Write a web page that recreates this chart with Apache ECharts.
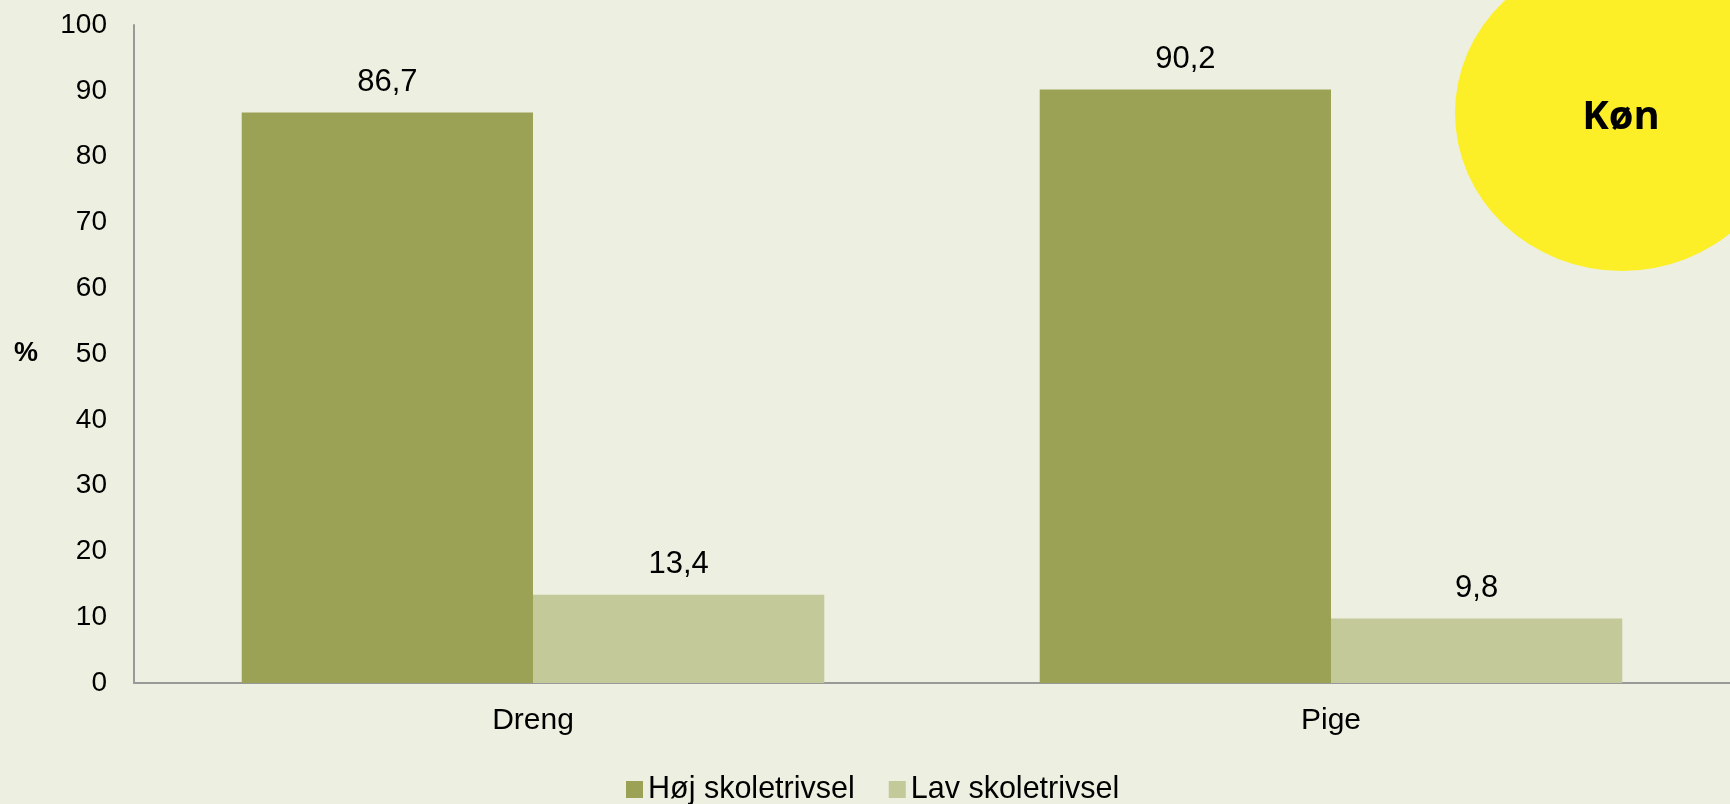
<!DOCTYPE html>
<html>
<head>
<meta charset="utf-8">
<script src="https://cdn.jsdelivr.net/npm/echarts@6/dist/echarts.min.js"></script>
<style>
  html, body { margin: 0; padding: 0; background: #edefe0; }
  #chart { width: 1730px; height: 804px; }
</style>
</head>
<body>
<div id="chart"></div>
<script>
// data
const categories = ['Dreng', 'Pige']
const seriesNames = ['Høj skoletrivsel', 'Lav skoletrivsel']
const hojValues = [86.7, 90.2]
const lavValues = [13.4, 9.8]
const colors = ['#9ba155', '#c4c99a']

const chart = echarts.init(document.getElementById('chart'))
const font = 'Liberation Sans, Arial, sans-serif'
const labelFmt = p => String(p.value).replace('.', ',')

const option = {
  backgroundColor: '#edefe0',
  textStyle: { fontFamily: font },
  grid: { left: 134, right: -4, top: 25, bottom: 121 },
  legend: {
    data: seriesNames,
    bottom: -6,
    left: 621,
    icon: 'rect',
    itemWidth: 17,
    itemHeight: 17,
    itemGap: 34,
    textStyle: { fontSize: 30.5, color: '#000', fontFamily: font }
  },
  xAxis: {
    type: 'category',
    data: categories,
    axisLine: { lineStyle: { color: '#999', width: 2 } },
    axisTick: { show: false },
    axisLabel: { fontSize: 30, color: '#000', margin: 23 }
  },
  yAxis: {
    type: 'value',
    min: 0,
    max: 100,
    interval: 10,
    name: '%',
    nameLocation: 'middle',
    nameRotate: 0,
    nameGap: 96,
    nameTextStyle: { fontSize: 27, color: '#000', fontWeight: 'bold' },
    axisLine: { show: true, lineStyle: { color: '#999', width: 2 } },
    axisTick: { show: false },
    splitLine: { show: false },
    axisLabel: { fontSize: 28, color: '#000', margin: 27 }
  },
  series: [
    {
      name: seriesNames[0],
      type: 'bar',
      data: hojValues,
      itemStyle: { color: colors[0] },
      barGap: '0%',
      barCategoryGap: '27%',
      label: { show: true, position: 'top', distance: 15, fontSize: 31, color: '#000', formatter: labelFmt }
    },
    {
      name: seriesNames[1],
      type: 'bar',
      data: lavValues,
      itemStyle: { color: colors[1] },
      label: { show: true, position: 'top', distance: 15, fontSize: 31, color: '#000', formatter: labelFmt }
    }
  ],
  graphic: [
    {
      type: 'circle',
      x: 1622,
      y: 113,
      scaleY: 0.946,
      shape: { cx: 0, cy: 0, r: 167 },
      style: { fill: '#fcef28' },
      z: 10
    },
    {
      type: 'text',
      x: 1621,
      y: 118,
      style: {
        text: 'Køn',
        fontSize: 40,
        fontWeight: 'bold',
        fontFamily: 'Open Sans, sans-serif',
        fill: '#000',
        textAlign: 'center',
        textVerticalAlign: 'middle'
      },
      z: 11
    }
  ]
}

chart.setOption(option)
</script>
</body>
</html>
